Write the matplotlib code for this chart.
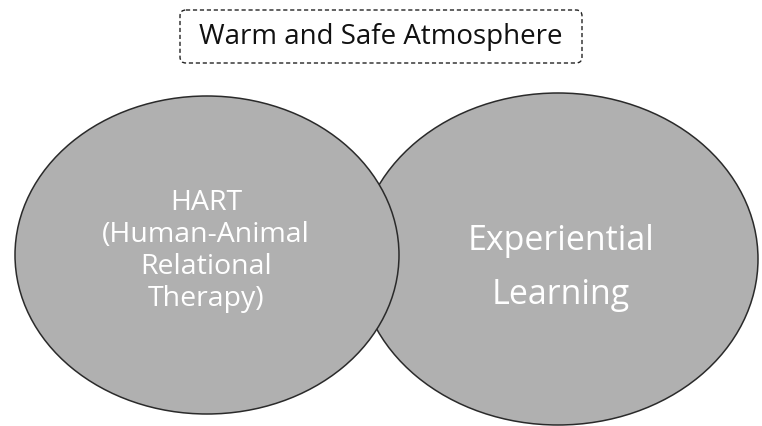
import matplotlib.pyplot as plt
from matplotlib.patches import Ellipse, FancyBboxPatch

# diagram content
title = "Warm and Safe Atmosphere"
circle_labels = ["Experiential\nLearning", "HART\n(Human-Animal\nRelational\nTherapy)"]
circle_centers = [(558, 260), (207, 256)]
circle_sizes = [(400, 332), (384, 318)]
label_pos = [(561, 268), (206, 251)]
label_sizes = [24.5, 20.5]
label_spacing = [1.8, 1.18]

fig = plt.figure(figsize=(7.62, 4.27), dpi=100)
ax = fig.add_axes([0, 0, 1, 1])
ax.set_xlim(0, 762)
ax.set_ylim(427, 0)
ax.axis("off")

# right ellipse first so the left one's outline sits on top in the overlap
fill = "#b0b0b0"
for (cx, cy), (w, h) in zip(circle_centers, circle_sizes):
    ax.add_patch(Ellipse((cx, cy), w, h, facecolor=fill, edgecolor="#2a2a2a", lw=1.1))

for (tx, ty), lab, fs, ls in zip(label_pos, circle_labels, label_sizes, label_spacing):
    ax.text(tx, ty, lab, ha="center", va="center", color="white",
            fontsize=fs, family="Open Sans", linespacing=ls)

# dashed title box
box = FancyBboxPatch((180, 11), 402, 53, boxstyle="round,pad=0,rounding_size=6",
                     facecolor="white", edgecolor="#222222", lw=1.0, linestyle=(0, (3, 2)))
ax.add_patch(box)
ax.text(381, 37, title, ha="center", va="center", fontsize=20, family="Open Sans", color="#111111")

fig.savefig("out.png", dpi=100)
